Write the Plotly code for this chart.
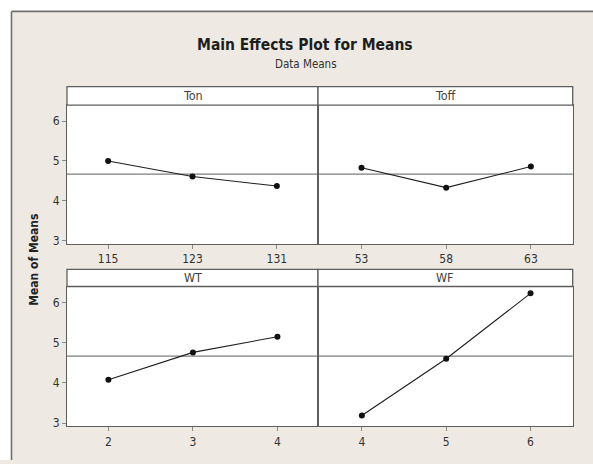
import numpy as np
import plotly.graph_objects as go

# Factor levels and the mean response at each level
factors = ["Ton", "Toff", "WT", "WF"]
ton_levels = [115, 123, 131]
ton_means = [5.00, 4.61, 4.37]
toff_levels = [53, 58, 63]
toff_means = [4.83, 4.33, 4.86]
wt_levels = [2, 3, 4]
wt_means = [4.08, 4.76, 5.15]
wf_levels = [4, 5, 6]
wf_means = [3.19, 4.60, 6.23]

y_ticks = [3, 4, 5, 6]
grand_mean = float(np.mean([ton_means, toff_means, wt_means, wf_means]))

W, H = 593, 464
BG = "#EEEAE3"
FRAME = "#707070"
AX = "#5E5E5E"
TXT = "#333333"
FONT = "DejaVu Sans Condensed"

def px(x):
    return x / W

def py(y):
    return 1 - y / H

# panel geometry (pixels)
xl, xm, xr = 67, 318, 572.7
top_strip, top_plot, top_bot = 87.3, 106, 246
bot_strip, bot_plot, bot_bot = 271.7, 289, 430

panels = [
    (ton_levels, ton_means, [111.1, 134.9], [xl, xm], [top_plot, top_bot], True),
    (toff_levels, toff_means, [50.43, 65.47], [xm, xr], [top_plot, top_bot], False),
    (wt_levels, wt_means, [1.51, 4.48], [xl, xm], [bot_plot, bot_bot], True),
    (wf_levels, wf_means, [3.48, 6.50], [xm, xr], [bot_plot, bot_bot], False),
]
y_range = [2.92, 6.40]

fig = go.Figure()
layout = {}
shapes = []
annotations = []

# white border outside the graph frame (top and left), plus the frame edges
shapes += [
    dict(type="rect", xref="paper", yref="paper", x0=0, x1=1, y0=py(11.5), y1=1,
         fillcolor="white", line=dict(width=0), layer="above"),
    dict(type="rect", xref="paper", yref="paper", x0=0, x1=px(11.5), y0=0, y1=1,
         fillcolor="white", line=dict(width=0), layer="above"),
    dict(type="line", xref="paper", yref="paper", x0=px(11.5), x1=1, y0=py(11.5), y1=py(11.5),
         line=dict(color=FRAME, width=1.6), layer="above"),
    dict(type="line", xref="paper", yref="paper", x0=px(11.5), x1=px(11.5), y0=0, y1=py(11.5),
         line=dict(color=FRAME, width=1.6), layer="above"),
]

for i, (levels, means, xr_, xdom, ydom, show_y) in enumerate(panels):
    n = i + 1
    xa = "xaxis" if n == 1 else f"xaxis{n}"
    ya = "yaxis" if n == 1 else f"yaxis{n}"
    xref = "x" if n == 1 else f"x{n}"
    yref = "y" if n == 1 else f"y{n}"

    layout[xa] = dict(
        domain=[px(xdom[0]), px(xdom[1])], range=xr_, anchor=yref,
        tickmode="array", tickvals=levels, ticktext=[str(v) for v in levels],
        ticks="outside", ticklen=4, tickcolor="#8A8A8A", tickwidth=1,
        showline=True, mirror=True, linecolor=AX, linewidth=1,
        showgrid=False, zeroline=False,
        tickfont=dict(family=FONT, size=12, color=TXT),
    )
    layout[ya] = dict(
        domain=[py(ydom[1]), py(ydom[0])], range=y_range, anchor=xref,
        tickmode="array", tickvals=y_ticks,
        ticktext=[str(v) for v in y_ticks] if show_y else ["" for _ in y_ticks],
        ticks="outside" if show_y else "", ticklen=4, tickcolor="#8A8A8A",
        showline=True, mirror=True, linecolor=AX, linewidth=1,
        showgrid=False, zeroline=False,
        tickfont=dict(family=FONT, size=12, color=TXT),
    )

    # grand mean reference line
    shapes.append(dict(type="line", xref=f"{xref} domain", yref=yref,
                       x0=0, x1=1, y0=grand_mean, y1=grand_mean,
                       line=dict(color="#7C7C7C", width=1.2), layer="below"))

    fig.add_trace(go.Scatter(
        x=levels, y=means, mode="lines+markers", xaxis=xref, yaxis=yref,
        line=dict(color="#1E1E1E", width=1.1),
        marker=dict(color="#111111", size=6), showlegend=False,
        hoverinfo="x+y",
    ))

    # factor strip above each panel
    strip_top = top_strip if ydom[0] == top_plot else bot_strip
    shapes.append(dict(type="rect", xref="paper", yref="paper",
                       x0=px(xdom[0]), x1=px(xdom[1]),
                       y0=py(ydom[0]), y1=py(strip_top),
                       fillcolor="white", line=dict(color=AX, width=1.3), layer="above"))
    annotations.append(dict(text=factors[i], xref="paper", yref="paper",
                            x=px((xdom[0] + xdom[1]) / 2), y=py((strip_top + ydom[0]) / 2),
                            xanchor="center", yanchor="middle", showarrow=False,
                            font=dict(family=FONT, size=12.5, color="#444444")))

annotations += [
    dict(text="<b>Main Effects Plot for Means</b>", xref="paper", yref="paper",
         x=px(304.5), y=py(45), xanchor="center", yanchor="middle", showarrow=False,
         font=dict(family=FONT, size=15.5, color="#1E1E1E")),
    dict(text="Data Means", xref="paper", yref="paper",
         x=px(306), y=py(65), xanchor="center", yanchor="middle", showarrow=False,
         font=dict(family=FONT, size=11.5, color=TXT)),
    dict(text="<b>Mean of Means</b>", xref="paper", yref="paper",
         x=px(34), y=py(262), xanchor="center", yanchor="middle", showarrow=False,
         textangle=-90, font=dict(family=FONT, size=12, color="#222222")),
]

fig.update_layout(
    width=W, height=H, margin=dict(l=0, r=0, t=0, b=0),
    paper_bgcolor=BG, plot_bgcolor="white",
    shapes=shapes, annotations=annotations, **layout,
)

fig.write_html("out.html")
